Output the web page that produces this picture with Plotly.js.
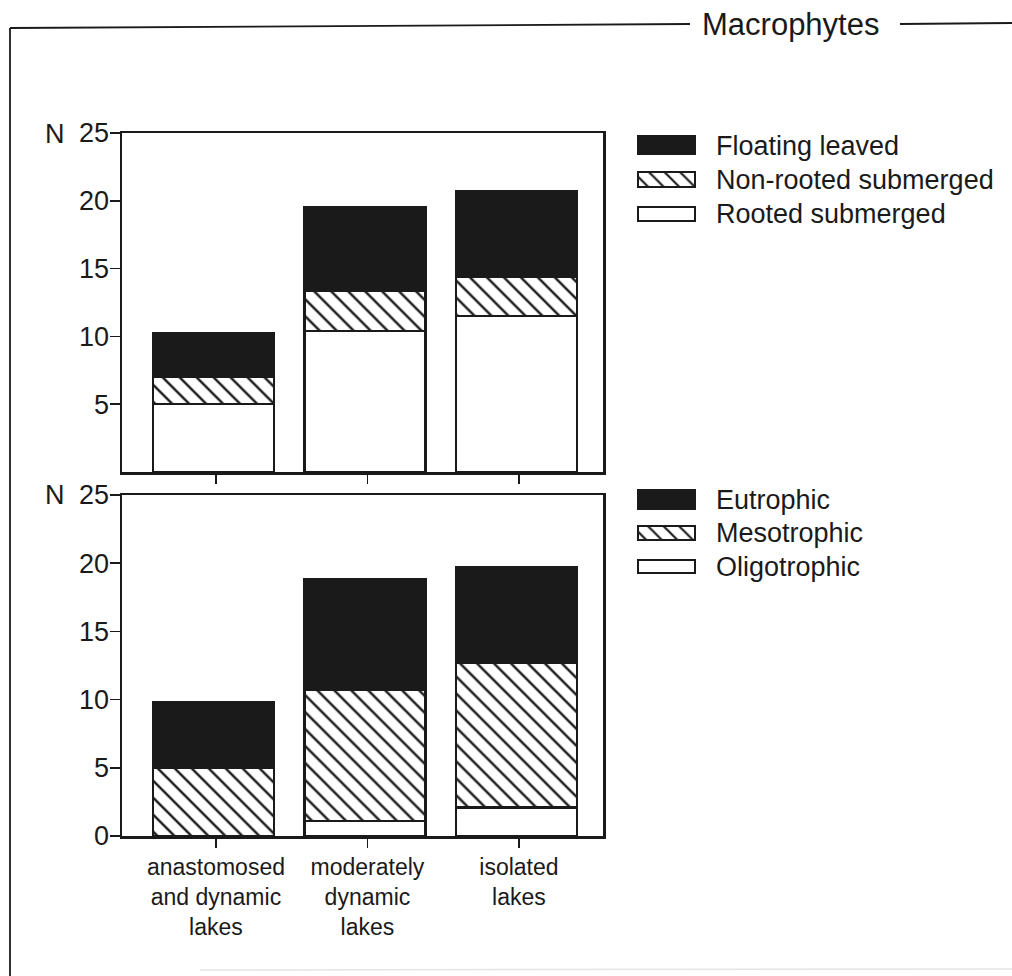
<!DOCTYPE html>
<html>
<head>
<meta charset="utf-8">
<script src="https://cdn.plot.ly/plotly-3.0.1.min.js"></script>
<style>
  html, body { margin: 0; padding: 0; background: #ffffff; }
  #chart { width: 1012px; height: 976px; }
</style>
</head>
<body>
<div id="chart"></div>
<script>
// ---------- data ----------
const lakeTypes = ['anastomosed<br>and dynamic<br>lakes', 'moderately<br>dynamic<br>lakes', 'isolated<br>lakes'];

const lifeFormNames = ['Floating leaved', 'Non-rooted submerged', 'Rooted submerged'];
const rootedSubmerged = [5.0, 10.4, 11.5];
const nonRootedSubmerged = [2.0, 3.0, 2.9];
const floatingLeaved = [3.2, 6.1, 6.3];

const trophicNames = ['Eutrophic', 'Mesotrophic', 'Oligotrophic'];
const oligotrophic = [0.0, 1.1, 2.1];
const mesotrophic = [5.0, 9.6, 10.6];
const eutrophic = [4.8, 8.1, 7.0];

const yTicksTop = [5, 10, 15, 20, 25];
const yTicksBottom = [0, 5, 10, 15, 20, 25];
const panelTitle = 'Macrophytes';
const axisLetter = 'N';

// ---------- helpers ----------
const W = 1012, H = 976;
const px = v => v / W;
const py = v => 1 - v / H;
const INK = '#1a1a1a';
const FONT = 'Liberation Sans, Arial, Helvetica, sans-serif';

const styles = {
  black: { color: INK, pattern: { shape: '' } },
  hatch: { color: '#ffffff', pattern: { shape: '\\', size: 12, solidity: 0.2, fgcolor: INK, bgcolor: '#ffffff', fillmode: 'replace' } },
  white: { color: '#ffffff', pattern: { shape: '' } }
};
const legendHatch = { color: '#ffffff', pattern: { shape: '\\', size: 11, solidity: 0.2, fgcolor: INK, bgcolor: '#ffffff', fillmode: 'replace' } };

function mainBar(name, vals, style, xa, ya) {
  return {
    type: 'bar', name: name, x: lakeTypes, y: vals, xaxis: xa, yaxis: ya,
    width: 0.8, offset: -0.417,
    marker: Object.assign({}, style, { line: { color: INK, width: 2.5 } }),
    showlegend: false, hoverinfo: 'skip'
  };
}
function swatch(name, style, xa, ya, w) {
  return {
    type: 'bar', orientation: 'h', name: name, y: [name], x: [1], xaxis: xa, yaxis: ya,
    width: w,
    marker: Object.assign({}, style, { line: { color: INK, width: 2 } }),
    showlegend: false, hoverinfo: 'skip'
  };
}

const traces = [
  mainBar(lifeFormNames[2], rootedSubmerged, styles.white, 'x', 'y'),
  mainBar(lifeFormNames[1], nonRootedSubmerged, styles.hatch, 'x', 'y'),
  mainBar(lifeFormNames[0], floatingLeaved, styles.black, 'x', 'y'),
  mainBar(trophicNames[2], oligotrophic, styles.white, 'x2', 'y2'),
  mainBar(trophicNames[1], mesotrophic, styles.hatch, 'x2', 'y2'),
  mainBar(trophicNames[0], eutrophic, styles.black, 'x2', 'y2'),
  swatch(lifeFormNames[0], styles.black, 'x3', 'y3', 0.52),
  swatch(lifeFormNames[1], legendHatch, 'x3', 'y3', 0.42),
  swatch(lifeFormNames[2], styles.white, 'x3', 'y3', 0.42),
  swatch(trophicNames[0], styles.black, 'x4', 'y4', 0.56),
  swatch(trophicNames[1], legendHatch, 'x4', 'y4', 0.40),
  swatch(trophicNames[2], styles.white, 'x4', 'y4', 0.40)
];

const xDomain = [px(122), px(603)];
const xRange = [-0.62, 2.555];

function xAxis(showLabels, anchor) {
  return {
    domain: xDomain, anchor: anchor, type: 'category', categoryarray: lakeTypes,
    range: xRange, showline: true, mirror: true, linecolor: INK, linewidth: 2.5,
    ticks: 'outside', ticklen: 9, tickwidth: 1.5, tickcolor: INK,
    showticklabels: showLabels, showgrid: false, zeroline: false,
    tickfont: { family: FONT, size: 23, color: INK }, fixedrange: true
  };
}
function yAxis(domain, ticks, anchor) {
  return {
    domain: domain, anchor: anchor, range: [0, 25], tickvals: ticks,
    showline: true, mirror: true, linecolor: INK, linewidth: 2.5,
    ticks: 'outside', ticklen: 10, tickwidth: 1.5, tickcolor: INK,
    ticklabelstandoff: -5,
    showgrid: false, zeroline: false,
    tickfont: { family: FONT, size: 27, color: INK }, fixedrange: true
  };
}
function legendY(domain, names, anchor) {
  return {
    domain: domain, anchor: anchor, type: 'category', categoryarray: names,
    range: [names.length - 0.5, -0.5], side: 'right', showline: false, ticks: '',
    showgrid: false, zeroline: false, ticklabelstandoff: 18,
    tickfont: { family: FONT, size: 27, color: INK }, fixedrange: true
  };
}
function legendX(anchor) {
  return { domain: [px(636), px(697)], anchor: anchor, range: [-0.04, 1.04], visible: false, fixedrange: true };
}

const layout = {
  width: W, height: H,
  margin: { l: 0, r: 0, t: 0, b: 0 },
  paper_bgcolor: '#ffffff', plot_bgcolor: '#ffffff',
  barmode: 'stack', showlegend: false,
  font: { family: FONT, color: INK },
  xaxis: xAxis(false, 'y'),
  yaxis: yAxis([py(472), py(133)], yTicksTop, 'x'),
  xaxis2: xAxis(true, 'y2'),
  yaxis2: yAxis([py(836), py(495)], yTicksBottom, 'x2'),
  xaxis3: legendX('y3'),
  yaxis3: legendY([py(231), py(128)], lifeFormNames, 'x3'),
  xaxis4: legendX('y4'),
  yaxis4: legendY([py(583), py(483)], trophicNames, 'x4'),
  annotations: [
    { text: panelTitle, xref: 'paper', yref: 'paper', x: px(700), y: py(24), xanchor: 'left', yanchor: 'middle',
      showarrow: false, font: { family: FONT, size: 31, color: INK } },
    { text: axisLetter, xref: 'paper', yref: 'paper', x: px(43), y: py(134), xanchor: 'left', yanchor: 'middle',
      showarrow: false, font: { family: FONT, size: 27, color: INK } },
    { text: axisLetter, xref: 'paper', yref: 'paper', x: px(43), y: py(495), xanchor: 'left', yanchor: 'middle',
      showarrow: false, font: { family: FONT, size: 27, color: INK } }
  ],
  shapes: [
    { type: 'line', xref: 'paper', yref: 'paper', x0: px(10), y0: py(28), x1: px(690), y1: py(24), line: { color: INK, width: 1.8 } },
    { type: 'line', xref: 'paper', yref: 'paper', x0: px(900), y0: py(24), x1: px(1012), y1: py(23), line: { color: INK, width: 1.8 } },
    { type: 'line', xref: 'paper', yref: 'paper', x0: px(10), y0: py(28), x1: px(10), y1: py(976), line: { color: INK, width: 1.8 } },
    { type: 'line', xref: 'paper', yref: 'paper', x0: px(200), y0: py(970), x1: px(1012), y1: py(969), line: { color: '#e4e4e4', width: 1.5 } }
  ]
};

Plotly.newPlot('chart', traces, layout, { staticPlot: true, displayModeBar: false });
</script>
</body>
</html>
